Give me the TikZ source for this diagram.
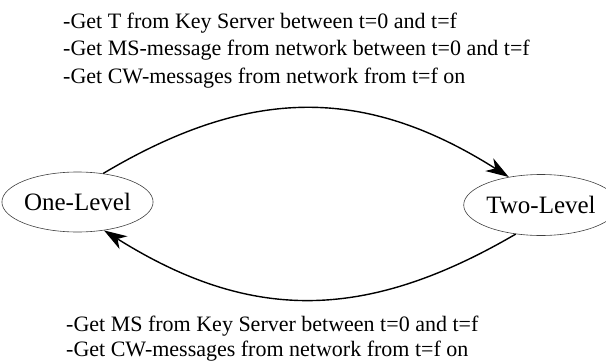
\documentclass[tikz,border=0pt]{standalone}
\usepackage{fontspec}
\setmainfont{Liberation Serif}
\usetikzlibrary{shapes.geometric,arrows.meta}
\begin{document}
\begin{tikzpicture}[x=1pt,y=-1pt,
  state/.style={ellipse,draw=black!75,line width=0.6pt,inner sep=0pt,
    font=\fontsize{25}{30}\selectfont},
  caption/.style={anchor=base west,inner sep=0pt,
    font=\fontsize{22}{27}\selectfont},
  trans/.style={line width=1.4pt,-{Stealth[length=23pt,width=15pt,inset=7pt]}}]
\useasboundingbox (0,0) rectangle (606,362);
\node[state,minimum width=137pt,minimum height=60pt] (one) at (77.5,202) {One-Level};
\node[state,minimum width=129pt,minimum height=61pt] (two) at (541,205) {Two-Level};
\node[caption] (t1) at (63,28) {-Get T from Key Server between t=0 and t=f};
\node[caption] (t2) at (63,55.5) {-Get MS-message from network between t=0 and t=f};
\node[caption] (t3) at (63,83) {-Get CW-messages from network from t=f on};
\node[caption] (b1) at (66,331) {-Get MS from Key Server between t=0 and t=f};
\node[caption] (b2) at (66,356) {-Get CW-messages from network from t=f on};
\draw[trans] (one.48) .. controls (250,86) and (365,86) .. (two.139);
\draw[trans] (two.229) .. controls (365,322) and (250,322) .. (one.-47);
\end{tikzpicture}
\end{document}
